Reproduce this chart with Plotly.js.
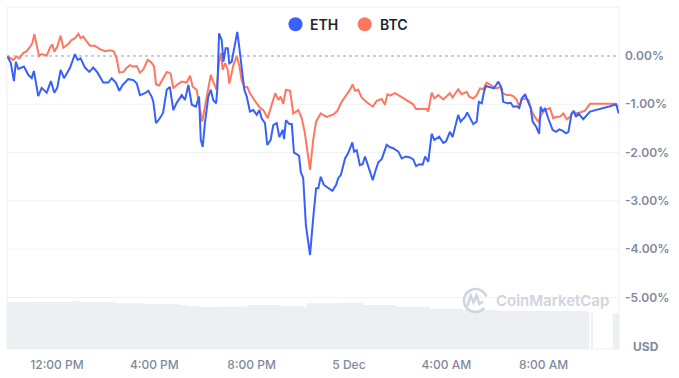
<!DOCTYPE html>
<html>
<head>
<meta charset="utf-8">
<script src="https://cdn.plot.ly/plotly-3.0.1.min.js"></script>
<style>
  html, body { margin: 0; padding: 0; background: #ffffff; }
  #chart { width: 679px; height: 378px; }
</style>
</head>
<body>
<div id="chart"></div>
<script>
// ---------- DATA (hours since 00:00, 4 Dec; change in %) ----------
const seriesNames = ["ETH", "BTC"];

const ethHours = [9.96,10.10,10.23,10.31,10.41,10.64,10.82,10.96,11.05,11.23,11.37,11.58,11.75,11.89,12.01,12.15,12.29,12.53,12.74,12.85,12.97,13.15,13.33,13.49,13.66,13.90,14.11,14.25,14.42,14.56,14.70,14.93,15.14,15.28,15.41,15.62,15.75,15.89,15.96,16.07,16.20,16.36,16.51,16.64,16.78,16.92,17.13,17.26,17.40,17.54,17.71,17.84,17.91,17.99,18.08,18.22,18.32,18.42,18.54,18.59,18.66,18.77,18.84,18.93,19.02,19.08,19.18,19.25,19.41,19.49,19.59,19.70,19.80,19.93,20.07,20.21,20.32,20.41,20.55,20.64,20.78,20.89,21.03,21.14,21.28,21.33,21.41,21.55,21.65,21.74,21.85,21.95,22.02,22.12,22.23,22.40,22.53,22.65,22.74,22.84,22.97,23.15,23.32,23.47,23.56,23.67,23.84,23.97,24.14,24.21,24.32,24.45,24.56,24.66,24.79,24.98,25.10,25.21,25.35,25.41,25.55,25.69,25.82,26.03,26.17,26.34,26.51,26.64,26.76,26.89,27.03,27.13,27.26,27.40,27.51,27.71,27.88,27.99,28.15,28.26,28.36,28.49,28.59,28.77,28.86,28.97,29.11,29.25,29.34,29.46,29.55,29.63,29.80,29.96,30.14,30.28,30.34,30.51,30.65,30.75,30.89,31.00,31.10,31.24,31.33,31.47,31.55,31.69,31.82,31.88,31.96,32.06,32.19,32.37,32.51,32.65,32.79,32.92,33.02,33.15,33.25,33.33,33.43,33.63,33.91,34.32,34.73,34.98,35.09];
const ethChange = [-0.01,-0.14,-0.52,-0.12,-0.27,-0.22,-0.39,-0.46,-0.31,-0.83,-0.66,-0.76,-0.52,-0.76,-0.66,-0.29,-0.46,-0.25,0.04,-0.08,-0.05,-0.24,-0.33,-0.24,-0.34,-0.55,-0.55,-0.46,-0.55,-0.72,-0.60,-0.48,-0.50,-0.57,-0.81,-0.77,-0.72,-0.84,-0.95,-1.39,-1.31,-1.18,-0.70,-0.64,-1.12,-0.97,-0.81,-0.91,-0.60,-1.01,-1.05,-0.84,-1.74,-1.88,-1.39,-0.84,-0.70,-0.91,-0.98,-0.70,0.47,0.33,-0.12,0.16,0.16,-0.15,-0.12,0.09,0.50,0.19,-0.25,-0.70,-0.84,-1.15,-1.12,-1.22,-1.12,-1.29,-1.39,-1.84,-1.74,-1.43,-1.39,-1.68,-1.53,-1.72,-1.33,-1.41,-1.41,-2.00,-2.03,-2.07,-2.40,-2.53,-3.50,-4.12,-3.36,-2.74,-2.74,-2.50,-2.67,-2.73,-2.79,-2.67,-2.53,-2.46,-2.12,-2.01,-1.79,-1.98,-1.95,-2.26,-2.24,-2.08,-2.29,-2.57,-2.36,-2.20,-2.13,-2.05,-1.84,-1.89,-1.91,-1.98,-2.12,-2.08,-2.10,-2.14,-2.28,-2.24,-2.25,-2.08,-2.19,-1.61,-1.74,-1.67,-1.80,-1.77,-1.57,-1.68,-1.46,-1.22,-1.36,-1.26,-1.17,-1.29,-1.41,-1.36,-0.95,-0.98,-0.74,-0.62,-0.64,-0.67,-0.53,-0.67,-0.95,-0.98,-0.97,-1.05,-1.04,-1.08,-0.88,-0.79,-0.91,-1.08,-1.36,-1.46,-1.61,-1.05,-1.15,-1.08,-1.29,-1.53,-1.57,-1.52,-1.55,-1.60,-1.57,-1.19,-1.15,-1.26,-1.19,-1.31,-1.15,-1.10,-1.04,-1.00,-1.19];

const btcHours = [9.96,10.20,10.34,10.45,10.61,10.75,10.89,10.98,11.07,11.17,11.26,11.37,11.58,11.71,11.81,11.89,12.01,12.15,12.26,12.46,12.60,12.74,12.88,12.97,13.08,13.25,13.36,13.56,13.77,13.97,14.18,14.34,14.45,14.56,14.73,14.86,15.00,15.14,15.28,15.41,15.55,15.73,15.89,15.99,16.07,16.20,16.51,16.67,16.78,16.92,17.13,17.33,17.47,17.58,17.74,17.88,17.97,18.08,18.19,18.32,18.42,18.56,18.66,18.74,18.81,18.91,19.02,19.08,19.18,19.25,19.39,19.49,19.59,19.70,19.82,19.93,20.07,20.21,20.32,20.48,20.66,20.80,20.97,21.10,21.19,21.30,21.41,21.58,21.71,21.92,22.06,22.19,22.29,22.40,22.53,22.65,22.84,23.08,23.36,23.52,23.70,23.91,24.04,24.15,24.25,24.38,24.52,24.73,24.98,25.14,25.35,25.48,25.58,25.69,25.89,26.10,26.26,26.44,26.64,26.76,26.99,27.20,27.26,27.40,27.51,27.67,27.88,28.15,28.26,28.40,28.49,28.63,28.84,28.94,29.11,29.25,29.39,29.52,29.66,29.83,29.96,30.07,30.21,30.32,30.48,30.62,30.75,30.89,31.00,31.10,31.24,31.38,31.52,31.65,31.79,31.93,32.06,32.26,32.40,32.54,32.67,32.81,32.95,33.09,33.20,33.33,33.50,33.70,33.91,34.32,34.73,34.93,35.07];
const btcChange = [0.00,-0.08,-0.01,-0.05,0.06,0.10,0.19,0.26,0.45,0.19,0.00,0.04,0.01,0.17,0.24,0.09,0.19,0.42,0.17,0.25,0.33,0.37,0.46,0.37,0.40,0.28,0.21,0.21,0.14,0.10,0.12,0.09,-0.05,-0.34,-0.33,-0.25,-0.19,-0.22,-0.21,-0.35,-0.28,-0.08,-0.14,-0.22,-0.59,-0.61,-0.33,-0.36,-0.67,-0.60,-0.53,-0.55,-0.41,-0.64,-0.70,-1.12,-1.36,-1.05,-0.74,-0.39,-0.53,-0.70,-0.12,0.06,-0.29,-0.15,-0.29,-0.57,-0.36,-0.19,-0.01,-0.19,-0.50,-0.65,-0.64,-0.77,-0.88,-0.98,-1.06,-1.12,-1.29,-1.05,-0.77,-0.91,-0.84,-0.99,-0.70,-0.72,-1.19,-1.12,-1.29,-1.60,-1.95,-2.36,-1.74,-1.36,-1.19,-1.26,-1.21,-1.14,-0.95,-0.81,-0.70,-0.59,-0.72,-0.70,-0.86,-0.96,-1.05,-0.93,-0.89,-1.01,-0.79,-0.82,-0.77,-0.83,-0.88,-0.95,-1.00,-1.10,-1.10,-1.10,-1.15,-0.76,-0.88,-0.81,-0.90,-0.77,-0.86,-0.74,-0.69,-0.79,-0.74,-0.84,-0.88,-0.81,-0.67,-0.69,-0.55,-0.60,-0.65,-0.67,-0.64,-0.77,-0.81,-0.81,-0.83,-0.90,-1.05,-0.90,-0.88,-0.91,-1.15,-1.27,-1.36,-1.19,-1.12,-1.08,-1.29,-1.26,-1.26,-1.19,-1.31,-1.26,-1.15,-1.19,-1.17,-1.13,-0.99,-0.99,-0.99,-0.99,-1.05];

// volume (relative units), step values starting at each hour mark
const volHours = [9.95,11.00,12.60,12.95,14.47,15.53,17.06,17.34,17.88,18.70,19.81,21.17,22.15,22.28,23.63,24.58,25.97,27.33,28.69,30.08,32.80,33.78,33.88,33.95,34.03,34.84,35.10];
const volume   = [46.7,47.0,48.0,46.7,45.7,45.0,44.0,43.0,42.0,42.5,44.0,43.0,41.7,45.7,46.3,44.0,42.3,40.3,39.0,38.3,38.3,37.0,0,36.3,0,35.7,35.7];

const yTickVals = [0, -1, -2, -3, -4, -5];
const yTickText = ["0.00%", "-1.00%", "-2.00%", "-3.00%", "-4.00%", "-5.00%"];
const xTickHours = [12, 16, 20, 24, 28, 32];
const xTickText = ["12:00 PM", "4:00 PM", "8:00 PM", "5 Dec", "4:00 AM", "8:00 AM"];
const currencyLabel = "USD";
const watermarkText = "CoinMarketCap";

// ---------- helpers ----------
const BASE = Date.UTC(2024, 11, 4);
const toMs = h => BASE + h * 3600000;

const W = 679, H = 378;
const M = {l: 7, r: 60, t: 7, b: 29};
const PW = W - M.l - M.r, PH = H - M.t - M.b;
const px = x => (x - M.l) / PW;     // pixel -> paper x
const py = y => (H - M.b - y) / PH; // pixel -> paper y

const colors = {ETH: "#3861fb", BTC: "#ff775f"};
const labelGrey = "#808a9d";

const traces = [
  {
    x: volHours.map(toMs), y: volume, type: "scatter", mode: "lines",
    line: {shape: "hv", width: 0, color: "#edf0f3"}, fill: "tozeroy",
    fillcolor: "#edf0f3", yaxis: "y2", hoverinfo: "skip", showlegend: false
  },
  {
    x: btcHours.map(toMs), y: btcChange, type: "scatter", mode: "lines",
    name: seriesNames[1], line: {color: colors.BTC, width: 2}, showlegend: false
  },
  {
    x: ethHours.map(toMs), y: ethChange, type: "scatter", mode: "lines",
    name: seriesNames[0], line: {color: colors.ETH, width: 2}, showlegend: false
  }
];

const shapes = [];
// grid lines
yTickVals.forEach(v => {
  shapes.push({
    type: "line", xref: "paper", x0: 0, x1: 1, yref: "y", y0: v, y1: v,
    line: v === 0 ? {color: "#9aa1ae", width: 1, dash: "dot"} : {color: "#eff2f5", width: 1},
    layer: "below"
  });
});
// frame
shapes.push({type: "rect", xref: "paper", yref: "paper", x0: 0, x1: 1, y0: 0, y1: 1,
  line: {color: "#eceff3", width: 1}, layer: "below"});
// legend dots
const legendDots = [{name: seriesNames[0], cx: 295.5, text: 308}, {name: seriesNames[1], cx: 364.7, text: 377.5}];
legendDots.forEach(d => {
  shapes.push({type: "circle", xref: "paper", yref: "paper",
    x0: px(d.cx - 7), x1: px(d.cx + 7), y0: py(24.3 + 7), y1: py(24.3 - 7),
    fillcolor: colors[d.name], line: {width: 0}});
});
// watermark logo (circle arc + wave)
(function(){
  const cx = 475.5, cy = 300.5, r = 11.5;
  let p = "";
  for (let i = 0; i <= 40; i++) {
    const a = (40 + i * (300 / 40)) * Math.PI / 180; // open gap at lower-right
    const x = cx + r * Math.cos(a), y = cy + r * Math.sin(a);
    p += (i === 0 ? "M" : "L") + px(x).toFixed(5) + "," + py(y).toFixed(5) + " ";
  }
  shapes.push({type: "path", xref: "paper", yref: "paper", path: p,
    line: {color: "#cfd5e0", width: 2.6}, layer: "above"});
  const wave = [[467.5,306],[470.5,295.5],[473.5,302.5],[476.5,295.5],[479.5,304],[483,301.5]];
  let q = "";
  wave.forEach((w, i) => { q += (i === 0 ? "M" : "L") + px(w[0]).toFixed(5) + "," + py(w[1]).toFixed(5) + " "; });
  shapes.push({type: "path", xref: "paper", yref: "paper", path: q,
    line: {color: "#cfd5e0", width: 2.6}, layer: "above"});
})();

const annotations = [];
legendDots.forEach(d => {
  annotations.push({xref: "paper", yref: "paper", x: px(d.text), y: py(24.5),
    xanchor: "left", yanchor: "middle", showarrow: false, text: d.name,
    font: {family: "Inter, sans-serif", size: 14, weight: 600, color: "#222531"}});
});
annotations.push({xref: "paper", yref: "paper", x: px(631), y: py(346),
  xanchor: "left", yanchor: "middle", showarrow: false, text: currencyLabel,
  font: {family: "Inter, sans-serif", size: 12, weight: 700, color: labelGrey}});
annotations.push({xref: "paper", yref: "paper", x: px(494), y: py(300.5),
  xanchor: "left", yanchor: "middle", showarrow: false, text: watermarkText,
  font: {family: "Inter, sans-serif", size: 15, weight: 600, color: "#cfd5e0"}});

const layout = {
  width: W, height: H,
  margin: M,
  paper_bgcolor: "#ffffff", plot_bgcolor: "#ffffff",
  showlegend: false,
  xaxis: {
    type: "date",
    range: [toMs(9.945), toMs(35.10)],
    tickvals: xTickHours.map(toMs), ticktext: xTickText,
    showgrid: false, zeroline: false, showline: false, ticks: "",
    tickfont: {family: "Inter, sans-serif", size: 12, weight: 500, color: labelGrey},
    ticklabelstandoff: 7,
    fixedrange: true
  },
  yaxis: {
    side: "right",
    range: [-6.066, 1.014],
    tickvals: yTickVals, ticktext: yTickText,
    showgrid: false, zeroline: false, showline: false, ticks: "",
    tickfont: {family: "Inter, sans-serif", size: 12, weight: 600, color: labelGrey},
    ticklabelstandoff: 5,
    fixedrange: true
  },
  yaxis2: {
    overlaying: "y", range: [0, PH], visible: false, fixedrange: true
  },
  shapes: shapes,
  annotations: annotations
};

Plotly.newPlot("chart", traces, layout, {displayModeBar: false, staticPlot: true});
</script>
</body>
</html>
